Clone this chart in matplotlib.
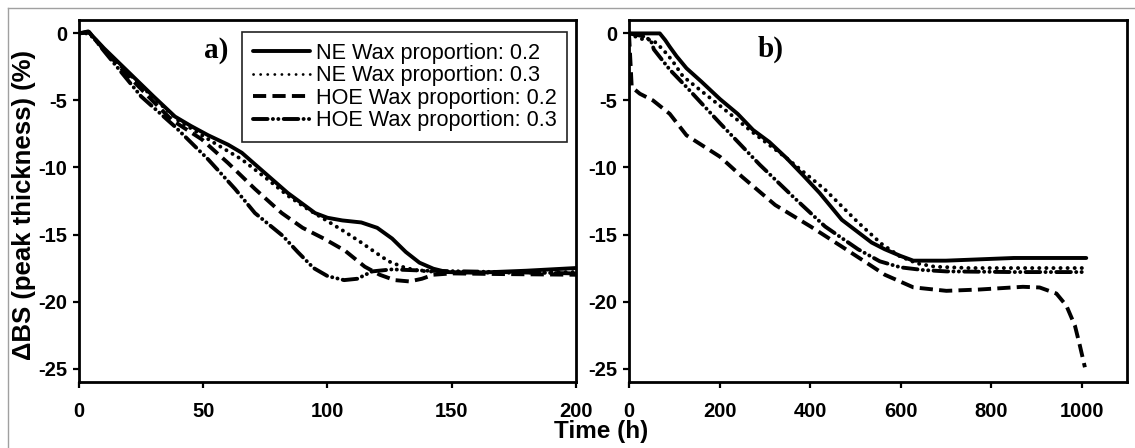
import matplotlib
matplotlib.use("Agg")
import matplotlib.pyplot as plt
from matplotlib.lines import Line2D

plt.rcParams['lines.scale_dashes'] = False

# ---------------- data: panel a) (0-200 h) ----------------
t_a_ne02 = [0, 3.7, 10, 20, 30, 38.6, 45, 52, 60, 65.5, 73.5, 84, 95, 100, 106, 113.6, 120, 126,
            131.5, 137, 142.6, 148, 160, 180, 200]
a_ne02 = [0, 0.15, -1.1, -2.9, -4.7, -6.2, -6.9, -7.6, -8.3, -8.9, -10.2, -11.9, -13.4, -13.75,
          -13.95, -14.1, -14.5, -15.3, -16.3, -17.1, -17.55, -17.8, -17.85, -17.7, -17.5]

t_a_ne03 = [0, 4, 10, 20, 30, 40, 54.7, 65.5, 76, 84, 92, 100, 107, 113.6, 119, 124.6, 131.5,
            137, 145, 170, 200]
a_ne03 = [0, 0.0, -1.2, -3.0, -4.8, -6.5, -8.2, -9.4, -10.9, -12.1, -13.1, -14.0, -14.8, -15.6,
          -16.3, -17.0, -17.5, -17.7, -17.8, -17.85, -17.8]

t_a_hoe02 = [0, 4, 10, 20, 30, 37.3, 49.4, 60, 70.8, 81.6, 90, 98.5, 107, 115, 121, 127, 133,
             138, 142.6, 150, 170, 200]
a_hoe02 = [0, 0.1, -1.2, -3.2, -5.1, -6.45, -7.9, -9.67, -11.6, -13.4, -14.5, -15.3, -16.2,
           -17.4, -18.0, -18.4, -18.5, -18.3, -18.0, -17.9, -17.95, -18.0]

t_a_hoe03 = [0, 4, 10, 25, 38.6, 52, 62.8, 70.8, 82, 88, 94.4, 100, 106.7, 112, 118, 126, 140,
             170, 200]
a_hoe03 = [0, 0.1, -1.3, -4.7, -6.95, -9.4, -11.6, -13.4, -15.1, -16.3, -17.5, -18.1, -18.4,
           -18.3, -17.75, -17.6, -17.7, -17.8, -17.9]

# ---------------- data: panel b) (0-1000 h) ----------------
t_b_ne02 = [0, 40, 68, 80, 90, 105, 127, 160, 201, 240, 274, 310, 348, 385, 421, 470, 536, 565,
            600, 628, 700, 775, 850, 930, 1010]
b_ne02 = [0, 0, 0, -0.5, -1.0, -1.7, -2.6, -3.6, -4.9, -6.0, -7.2, -8.1, -9.3, -10.6, -11.9,
          -13.9, -15.6, -16.1, -16.6, -16.95, -16.95, -16.85, -16.75, -16.75, -16.75]

t_b_ne03 = [0, 24, 53, 75, 95, 119, 160, 201, 274, 348, 433, 506, 558, 597, 636, 675, 750, 850,
            1005]
b_ne03 = [0, -0.4, -0.5, -1.2, -2.0, -3.2, -4.3, -5.4, -7.4, -9.3, -11.65, -14.1, -15.7, -16.6,
          -17.15, -17.4, -17.5, -17.5, -17.5]

t_b_hoe02 = [0, 3, 6, 24, 53, 90, 127, 164, 201, 250, 323, 401, 470, 520, 565, 628, 701, 775,
             870, 907, 944, 966, 985, 996, 1007]
b_hoe02 = [0, -2.0, -4.0, -4.5, -5.0, -6.0, -7.6, -8.4, -9.2, -10.7, -12.8, -14.4, -15.9, -17.0,
           -18.0, -18.94, -19.2, -19.1, -18.9, -18.95, -19.4, -20.3, -21.8, -23.3, -24.9]

t_b_hoe03 = [0, 30, 48, 55, 90, 127, 201, 289, 363, 433, 506, 554, 600, 650, 701, 850, 1006]
b_hoe03 = [0, -0.2, -0.5, -1.2, -2.7, -4.0, -6.7, -9.8, -12.2, -14.4, -16.1, -17.0, -17.45,
           -17.65, -17.75, -17.8, -17.8]

labels = ["NE Wax proportion: 0.2", "NE Wax proportion: 0.3",
          "HOE Wax proportion: 0.2", "HOE Wax proportion: 0.3"]
y_ticks = [0, -5, -10, -15, -20, -25]
x_ticks_a = [0, 50, 100, 150, 200]
x_ticks_b = [0, 200, 400, 600, 800, 1000]

# ---------------- styles ----------------
LW = 2.8
styles = [
    dict(linestyle='-', solid_capstyle='round'),
    dict(linestyle=(0, (0.1, 5.0)), dash_capstyle='round'),
    dict(linestyle=(0, (9.5, 4.5)), dash_capstyle='butt'),
    dict(linestyle=(0, (10.5, 3.8, 0.1, 3.8, 0.1, 3.8)), dash_capstyle='round'),
]

W, H = 1135, 448
fig = plt.figure(figsize=(W / 100, H / 100), dpi=100)
fig.patch.set_facecolor('white')

ax_a = fig.add_axes([79 / W, 1 - 382 / H, (576 - 79) / W, (382 - 20) / H])
ax_b = fig.add_axes([629 / W, 1 - 382 / H, (1127 - 629) / W, (382 - 20) / H])

tick_font = dict(family='Liberation Sans', weight='bold', size=14.5)

data_a = [(t_a_ne02, a_ne02), (t_a_ne03, a_ne03), (t_a_hoe02, a_hoe02), (t_a_hoe03, a_hoe03)]
data_b = [(t_b_ne02, b_ne02), (t_b_ne03, b_ne03), (t_b_hoe02, b_hoe02), (t_b_hoe03, b_hoe03)]

for ax, data, xt, xlim in [(ax_a, data_a, x_ticks_a, (0, 200)), (ax_b, data_b, x_ticks_b, (0, 1100))]:
    for (t, v), st in zip(data, styles):
        ax.plot(t, v, color='black', lw=LW, **st)
    ax.set_xlim(*xlim)
    ax.set_ylim(-26, 1)
    ax.set_xticks(xt)
    ax.set_yticks(y_ticks)
    ax.set_xticklabels([str(x) for x in xt], fontdict=tick_font)
    ax.set_yticklabels([str(y) for y in y_ticks], fontdict=tick_font)
    ax.tick_params(axis='both', direction='out', length=4.5, width=1.6, color='black')
    ax.tick_params(axis='x', pad=10)
    ax.tick_params(axis='y', pad=4)
    for s in ax.spines.values():
        s.set_linewidth(2.0)
        s.set_color('black')
    ax.set_facecolor('white')

ax_a.text(0.276, 0.917, "a)", transform=ax_a.transAxes, ha='center', va='center',
          family='Liberation Serif', weight='bold', size=21)
ax_b.text(0.285, 0.918, "b)", transform=ax_b.transAxes, ha='center', va='center',
          family='Liberation Serif', weight='bold', size=21)

handles = [Line2D([0], [0], color='black', lw=LW if i != 1 else 2.0, **st)
           for i, st in enumerate(styles)]
leg = fig.legend(handles, labels, loc='upper left', bbox_to_anchor=(242 / W, 1 - 32 / H),
                 bbox_transform=fig.transFigure, borderaxespad=0,
                 prop=dict(family='Liberation Sans', size=15.6),
                 handlelength=2.65, handletextpad=0.25, labelspacing=0.07, borderpad=0.5,
                 fancybox=False, framealpha=1, edgecolor='#222222')
leg.get_frame().set_linewidth(1.2)

fig.text(24 / W, 1 - 205 / H, "ΔBS (peak thickness) (%)", rotation=90, ha='center', va='center',
         family='Liberation Sans', weight='bold', size=18.5)
fig.text(601 / W, 1 - 431 / H, "Time (h)", ha='center', va='center',
         family='Liberation Sans', weight='bold', size=17.5)

# light grey frame lines (top and left) around the figure
fig.add_artist(Line2D([8 / W, 1.0], [1 - 8 / H, 1 - 8 / H], transform=fig.transFigure,
                      color='#a0a0a0', lw=1.0))
fig.add_artist(Line2D([8 / W, 8 / W], [0, 1 - 8 / H], transform=fig.transFigure,
                      color='#a0a0a0', lw=1.0))

fig.savefig("out.png", dpi=100, facecolor='white')
